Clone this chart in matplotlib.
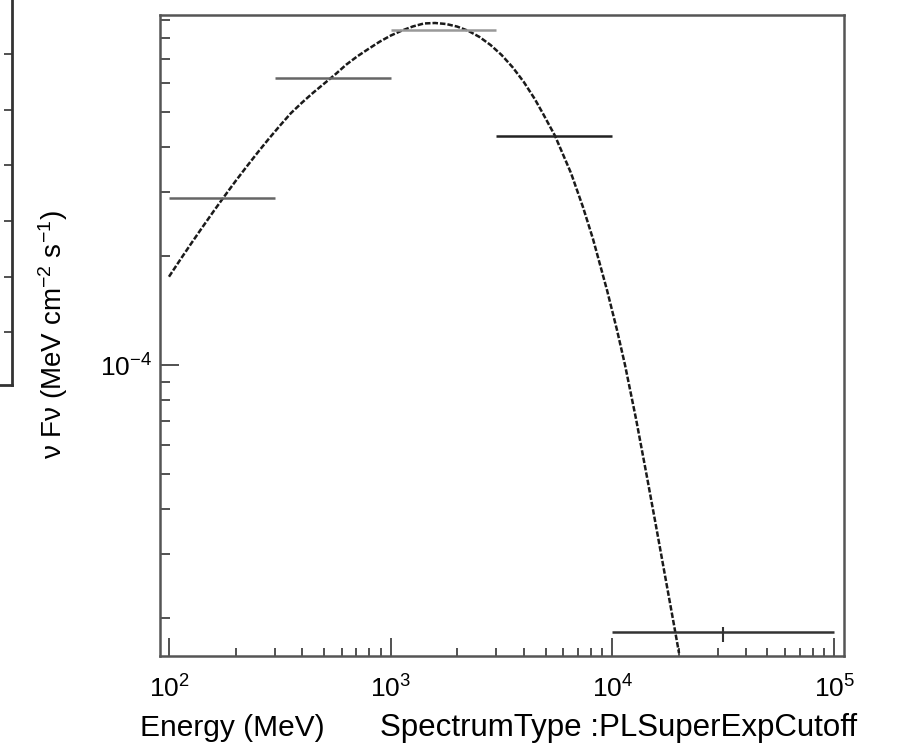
import numpy as np
import matplotlib
matplotlib.use('Agg')
import matplotlib.pyplot as plt
from matplotlib.ticker import LogLocator, NullFormatter

plt.rcParams['font.family'] = ['Liberation Sans', 'DejaVu Sans']
plt.rcParams['mathtext.fontset'] = 'custom'
plt.rcParams['mathtext.rm'] = 'Liberation Sans'
plt.rcParams['mathtext.it'] = 'Liberation Sans:italic'
plt.rcParams['mathtext.bf'] = 'Liberation Sans:bold'

# model curve (MeV, MeV cm-2 s-1)
curve_E = [100, 112.2, 125.9, 141.3, 158.5, 177.8, 199.5, 223.9, 251.2, 281.8,
           316.2, 354.8, 398.1, 446.7, 501.2, 562.3, 631.0, 707.9, 794.3,
           891.3, 1000, 1122, 1259, 1413, 1585, 1778, 1995, 2239, 2512, 2818,
           3162, 3548, 3981, 4467, 4864, 5508, 6507, 7369, 8176, 9454, 10490,
           11400, 12785, 14325, 15730, 17270, 18960, 19970]
curve_F = [1.754e-4, 1.951e-4, 2.166e-4, 2.400e-4, 2.653e-4, 2.926e-4,
           3.220e-4, 3.532e-4, 3.865e-4, 4.216e-4, 4.582e-4, 4.965e-4,
           5.309e-4, 5.653e-4, 5.993e-4, 6.353e-4, 6.764e-4, 7.130e-4,
           7.473e-4, 7.821e-4, 8.132e-4, 8.394e-4, 8.619e-4, 8.784e-4,
           8.810e-4, 8.754e-4, 8.611e-4, 8.381e-4, 8.064e-4, 7.664e-4,
           7.190e-4, 6.648e-4, 6.058e-4, 5.430e-4, 4.948e-4, 4.300e-4,
           3.390e-4, 2.730e-4, 2.229e-4, 1.611e-4, 1.249e-4, 1.000e-4,
           7.09e-5, 4.90e-5, 3.59e-5, 2.62e-5, 1.913e-5, 1.601e-5]

# binned SED points
bin_lo = [100, 300, 1000, 3000, 10000]
bin_hi = [300, 1000, 3000, 10000, 100000]
bin_F = [2.89e-4, 6.22e-4, 8.42e-4, 4.29e-4, 1.83e-5]
bin_err_lo = [0, 0, 0, 0, 1.1e-6]
bin_err_hi = [0, 0, 0, 0, 0.6e-6]
bin_colors = ['#666666', '#666666', '#999999', '#222222', '#333333']

fig = plt.figure(figsize=(9.03, 7.51), dpi=100)

# cut-off neighbour panel at the left edge
axl = fig.add_axes([-0.3, 1 - 385 / 751, 0.3 + 12 / 903, 385 / 751 + 0.05])
axl.set_ylim(0.05, 7.65)
axl.set_xticks([])
axl.set_yticks(np.arange(1, 8))
axl.yaxis.tick_right()
axl.tick_params(axis='y', direction='in', length=6, width=1.2, colors='#333333',
                labelright=False)
for s in ['top', 'left']:
    axl.spines[s].set_visible(False)
for s in ['right', 'bottom']:
    axl.spines[s].set_linewidth(2)
    axl.spines[s].set_color('#333333')

ax = fig.add_axes([160 / 903, 1 - 656 / 751, 684 / 903, 641 / 751])
ax.set_xscale('log')
ax.set_yscale('log')
ax.set_xlim(91.1, 110800)
ax.set_ylim(1.571e-5, 9.27e-4)

ax.plot(curve_E, curve_F, color='#1a1a1a', lw=1.8, dashes=(2.2, 0.8))
ax.hlines(bin_F, bin_lo, bin_hi, colors=bin_colors, lw=1.8)
bin_ctr = np.sqrt(np.array(bin_lo) * np.array(bin_hi))
ax.errorbar(bin_ctr, bin_F, yerr=[bin_err_lo, bin_err_hi], fmt='none',
            ecolor='#333333', elinewidth=1.5, capsize=0)

ax.xaxis.set_minor_locator(LogLocator(base=10, subs=np.arange(2, 10)))
ax.yaxis.set_minor_locator(LogLocator(base=10, subs=np.arange(2, 10)))
ax.xaxis.set_minor_formatter(NullFormatter())
ax.yaxis.set_minor_formatter(NullFormatter())
ax.tick_params(which='both', direction='in', top=False, right=False,
               colors='#333333', width=1.2, labelsize=19, labelcolor='black')
ax.tick_params(axis='x', which='major', length=13, pad=14)
ax.tick_params(axis='x', which='minor', length=6)
ax.tick_params(axis='y', which='major', length=14, pad=6)
ax.tick_params(axis='y', which='minor', length=7)
for s in ax.spines.values():
    s.set_linewidth(1.8)
    s.set_color('#555555')

fig.text(53 / 903, 1 - 335 / 751, 'ν Fν (MeV cm$^{-2}$ s$^{-1}$)',
         rotation=90, ha='center', va='center', fontsize=20)
fig.text(140 / 903, 1 - 736 / 751, 'Energy (MeV)', ha='left',
         va='baseline', fontsize=21.5)
fig.text(380 / 903, 1 - 736 / 751, 'SpectrumType :PLSuperExpCutoff',
         ha='left', va='baseline', fontsize=22.5)

fig.savefig('out.png', dpi=100)
